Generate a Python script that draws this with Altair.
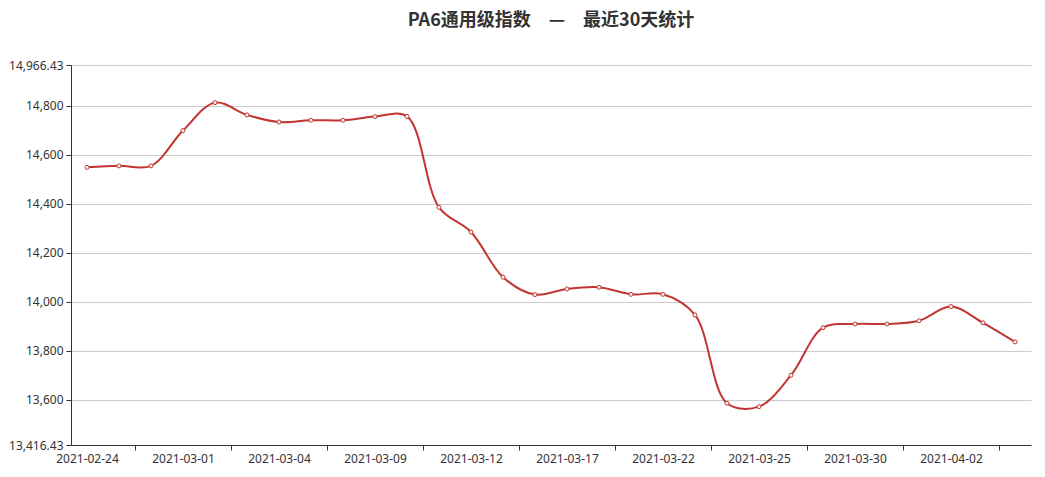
import altair as alt
import pandas as pd

dates = [
    "2021-02-24", "2021-02-25", "2021-02-26", "2021-03-01", "2021-03-02",
    "2021-03-03", "2021-03-04", "2021-03-05", "2021-03-08", "2021-03-09",
    "2021-03-10", "2021-03-11", "2021-03-12", "2021-03-15", "2021-03-16",
    "2021-03-17", "2021-03-18", "2021-03-19", "2021-03-22", "2021-03-23",
    "2021-03-24", "2021-03-25", "2021-03-26", "2021-03-29", "2021-03-30",
    "2021-03-31", "2021-04-01", "2021-04-02", "2021-04-06", "2021-04-07",
]
values = [
    14549, 14555, 14555, 14699, 14813,
    14763, 14734, 14741, 14741, 14756,
    14757, 14386, 14285, 14101, 14030,
    14053, 14060, 14031, 14031, 13947,
    13587, 13573, 13701, 13895, 13910,
    13910, 13923, 13981, 13915, 13837,
]
y_ticks = [13416.43, 13600, 13800, 14000, 14200, 14400, 14600, 14800, 14966.43]
title_text = "PA6通用级指数　—　最近30天统计"

FONT = "Noto Sans"
RED = "#c23531"
W, H = 960, 380

df = pd.DataFrame({"idx": list(range(len(dates))), "date": dates, "value": values})

label_arr = "[" + ",".join(f"'{d}'" for d in dates) + "]"
x_tick_vals = [i + 1.5 for i in range(0, len(dates) - 1, 3)]
band = W / len(dates)

x_enc = alt.X(
    "idx:Q",
    scale=alt.Scale(domain=[-0.5, len(dates) - 0.5], nice=False, zero=False),
    axis=alt.Axis(
        values=x_tick_vals,
        labelExpr=f"{label_arr}[datum.value - 1.5]",
        labelOffset=-1.5 * band,
        grid=False,
        title=None,
        labelOverlap=False,
        labelFlush=False,
        tickSize=5,
        labelPadding=3,
    ),
)
y_enc = alt.Y(
    "value:Q",
    scale=alt.Scale(domain=[y_ticks[0], y_ticks[-1]], nice=False, zero=False),
    axis=alt.Axis(
        values=y_ticks,
        labelExpr="format(datum.value, ',')",
        grid=True,
        gridColor="#cccccc",
        gridWidth=1,
        title=None,
        tickSize=5,
        labelPadding=3,
        labelOverlap=False,
        labelFlush=False,
    ),
)

base = alt.Chart(df).encode(x=x_enc, y=y_enc)
line = base.mark_line(color=RED, strokeWidth=2, interpolate="catmull-rom")
pts = base.mark_point(
    shape="circle", filled=True, fill="white", stroke=RED, strokeWidth=1,
    size=16, opacity=1,
)

chart = (
    (line + pts)
    .properties(
        width=W,
        height=H,
        title=alt.TitleParams(
            text=title_text,
            font="Noto Sans CJK SC",
            fontSize=18,
            fontWeight="bold",
            color="#333333",
            anchor="middle",
            offset=29,
        ),
        padding={"left": 63, "top": 57, "right": 6, "bottom": 24},
        autosize=alt.AutoSizeParams(type="none"),
        background="white",
    )
    .configure_view(stroke=None)
    .configure_axis(
        domainColor="#333333",
        tickColor="#333333",
        labelColor="#333333",
        labelFont=FONT,
        labelFontSize=12,
        domainWidth=1,
    )
)

chart.save("out.html", embed_options={"renderer": "svg", "actions": False})
